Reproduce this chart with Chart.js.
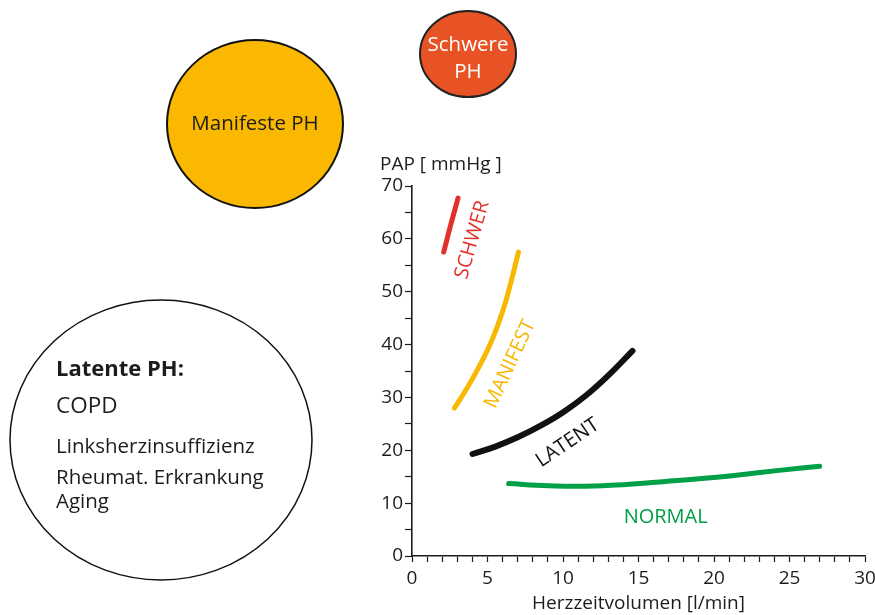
<!DOCTYPE html>
<html>
<head>
<meta charset="utf-8">
<script src="https://cdn.jsdelivr.net/npm/chart.js@4.4.1/dist/chart.umd.min.js"></script>
<style>
html,body{margin:0;padding:0;background:#fff;}
#wrap{width:875px;height:615px;position:relative;}
</style>
</head>
<body>
<div id="wrap"><canvas id="c" width="875" height="615"></canvas></div>
<script>
// ---- data ----
const xTitle = 'Herzzeitvolumen [l/min]';
const yTitle = 'PAP [ mmHg ]';
const xTickLabels = [0, 5, 10, 15, 20, 25, 30];
const yTickLabels = [0, 10, 20, 30, 40, 50, 60, 70];

const schwerX = [2.1, 2.55, 3.05];
const schwerY = [57.5, 62.5, 67.7];

const manifestX = [2.81, 3.61, 4.40, 5.07, 5.66, 6.19, 6.66, 7.05];
const manifestY = [28.0, 31.6, 35.6, 39.4, 43.5, 48.0, 53.0, 57.5];

const latentX = [4.01, 5.52, 7.03, 8.55, 10.06, 11.58, 13.09, 14.60];
const latentY = [19.3, 20.7, 22.5, 24.7, 27.3, 30.5, 34.4, 38.8];

const normalX = [6.4, 9.0, 11.5, 14.0, 16.8, 19.0, 21.2, 24.3, 27.0];
const normalY = [13.7, 13.3, 13.2, 13.5, 14.1, 14.6, 15.2, 16.2, 17.0];

const seriesNames = ['SCHWER', 'MANIFEST', 'LATENT', 'NORMAL'];
const seriesColors = ['#e2302a', '#f8b700', '#111111', '#00a047'];
// curve label anchor points (data units) and rotation (deg)
const labelX = [4.0, 6.5, 10.3, 16.8];
const labelY = [59.8, 36.3, 21.4, 7.4];
const labelRot = [-74, -65, -34, 0];

const circleTexts = {
  manifest: ['Manifeste PH'],
  schwer: ['Schwere', 'PH'],
  latent: ['Latente PH:', 'COPD', 'Linksherzinsuffizienz', 'Rheumat. Erkrankung', 'Aging']
};

// ---- build ----
const FONT = '"Open Sans", "Noto Sans", sans-serif';
const INK = '#1c1c1c';
const pts = (xs, ys) => xs.map((x, i) => ({x: x, y: ys[i]}));
const allX = [schwerX, manifestX, latentX, normalX];
const allY = [schwerY, manifestY, latentY, normalY];
const lineWidths = [5, 5, 6, 5];

const datasets = seriesNames.map((n, i) => ({
  label: n,
  data: pts(allX[i], allY[i]),
  showLine: true,
  borderColor: seriesColors[i],
  backgroundColor: seriesColors[i],
  borderWidth: lineWidths[i],
  borderCapStyle: 'round',
  borderJoinStyle: 'round',
  pointRadius: 0,
  tension: 0.4,
  fill: false
}));

const decor = {
  id: 'decor',
  afterDraw(chart) {
    const ctx = chart.ctx;
    const xs = chart.scales.x, ys = chart.scales.y;
    ctx.save();
    // curve labels
    seriesNames.forEach((n, i) => {
      ctx.save();
      ctx.translate(xs.getPixelForValue(labelX[i]), ys.getPixelForValue(labelY[i]));
      ctx.rotate(labelRot[i] * Math.PI / 180);
      ctx.fillStyle = seriesColors[i];
      ctx.font = '20px ' + FONT;
      ctx.textAlign = 'center';
      ctx.textBaseline = 'middle';
      ctx.fillText(n, 0, 0);
      ctx.restore();
    });
    // y title (horizontal, above the axis)
    ctx.fillStyle = INK;
    ctx.font = '19px ' + FONT;
    ctx.textAlign = 'left';
    ctx.textBaseline = 'alphabetic';
    ctx.fillText(yTitle, 380, 170);

    // Manifeste PH circle
    ctx.beginPath();
    ctx.ellipse(255, 124, 88, 84, 0, 0, Math.PI * 2);
    ctx.fillStyle = '#fbb800';
    ctx.fill();
    ctx.lineWidth = 2;
    ctx.strokeStyle = '#111';
    ctx.stroke();
    ctx.fillStyle = INK;
    ctx.font = '20.5px ' + FONT;
    ctx.textAlign = 'center';
    ctx.textBaseline = 'middle';
    ctx.fillText(circleTexts.manifest[0], 255, 124);

    // Schwere PH circle
    ctx.beginPath();
    ctx.ellipse(468, 54, 48, 43, 0, 0, Math.PI * 2);
    ctx.fillStyle = '#e85325';
    ctx.fill();
    ctx.lineWidth = 2;
    ctx.strokeStyle = '#222';
    ctx.stroke();
    ctx.fillStyle = '#fff';
    ctx.font = '20.5px ' + FONT;
    ctx.fillText(circleTexts.schwer[0], 468, 45);
    ctx.fillText(circleTexts.schwer[1], 468, 72);

    // Latente PH circle
    ctx.beginPath();
    ctx.ellipse(161, 440, 151, 140, 0, 0, Math.PI * 2);
    ctx.fillStyle = '#fff';
    ctx.fill();
    ctx.lineWidth = 1.5;
    ctx.strokeStyle = '#111';
    ctx.stroke();
    ctx.fillStyle = INK;
    ctx.textAlign = 'left';
    ctx.textBaseline = 'alphabetic';
    ctx.font = 'bold 22px ' + FONT;
    ctx.fillText(circleTexts.latent[0], 56, 376);
    ctx.font = '22.5px ' + FONT;
    ctx.fillText(circleTexts.latent[1], 56, 413);
    ctx.font = '20.5px ' + FONT;
    ctx.fillText(circleTexts.latent[2], 56, 453);
    ctx.fillText(circleTexts.latent[3], 56, 484);
    ctx.fillText(circleTexts.latent[4], 56, 508);
    ctx.restore();
  }
};

new Chart(document.getElementById('c'), {
  type: 'scatter',
  data: {datasets: datasets},
  options: {
    responsive: false,
    animation: false,
    events: [],
    layout: {padding: {top: 186, right: 10, bottom: 0, left: 0}},
    plugins: {legend: {display: false}, tooltip: {enabled: false}},
    scales: {
      x: {
        type: 'linear',
        min: xTickLabels[0],
        max: xTickLabels[xTickLabels.length - 1],
        afterFit: s => { s.height = 59; s.paddingLeft = 0; s.paddingRight = 0; },
        border: {display: true, color: INK, width: 1.6},
        grid: {display: true, drawOnChartArea: false, drawTicks: true, tickLength: 6, tickColor: INK, tickWidth: 1.2},
        ticks: {
          stepSize: 1, autoSkip: false, maxRotation: 0, padding: 5,
          color: INK, font: {family: FONT, size: 19},
          callback: v => (xTickLabels.includes(v) ? String(v) : '')
        },
        title: {display: true, text: xTitle, color: INK, font: {family: FONT, size: 19}, padding: {top: 0, bottom: 0}}
      },
      y: {
        type: 'linear',
        min: yTickLabels[0],
        max: yTickLabels[yTickLabels.length - 1],
        afterFit: s => { s.width = 412; s.paddingTop = 0; s.paddingBottom = 0; },
        border: {display: true, color: INK, width: 1.6},
        grid: {display: true, drawOnChartArea: false, drawTicks: true, tickLength: 7, tickColor: INK, tickWidth: 1.2},
        ticks: {
          stepSize: 5, autoSkip: false, padding: 2,
          color: INK, font: {family: FONT, size: 19},
          callback: v => (yTickLabels.includes(v) ? String(v) : '')
        }
      }
    }
  },
  plugins: [decor]
});
</script>
</body>
</html>
